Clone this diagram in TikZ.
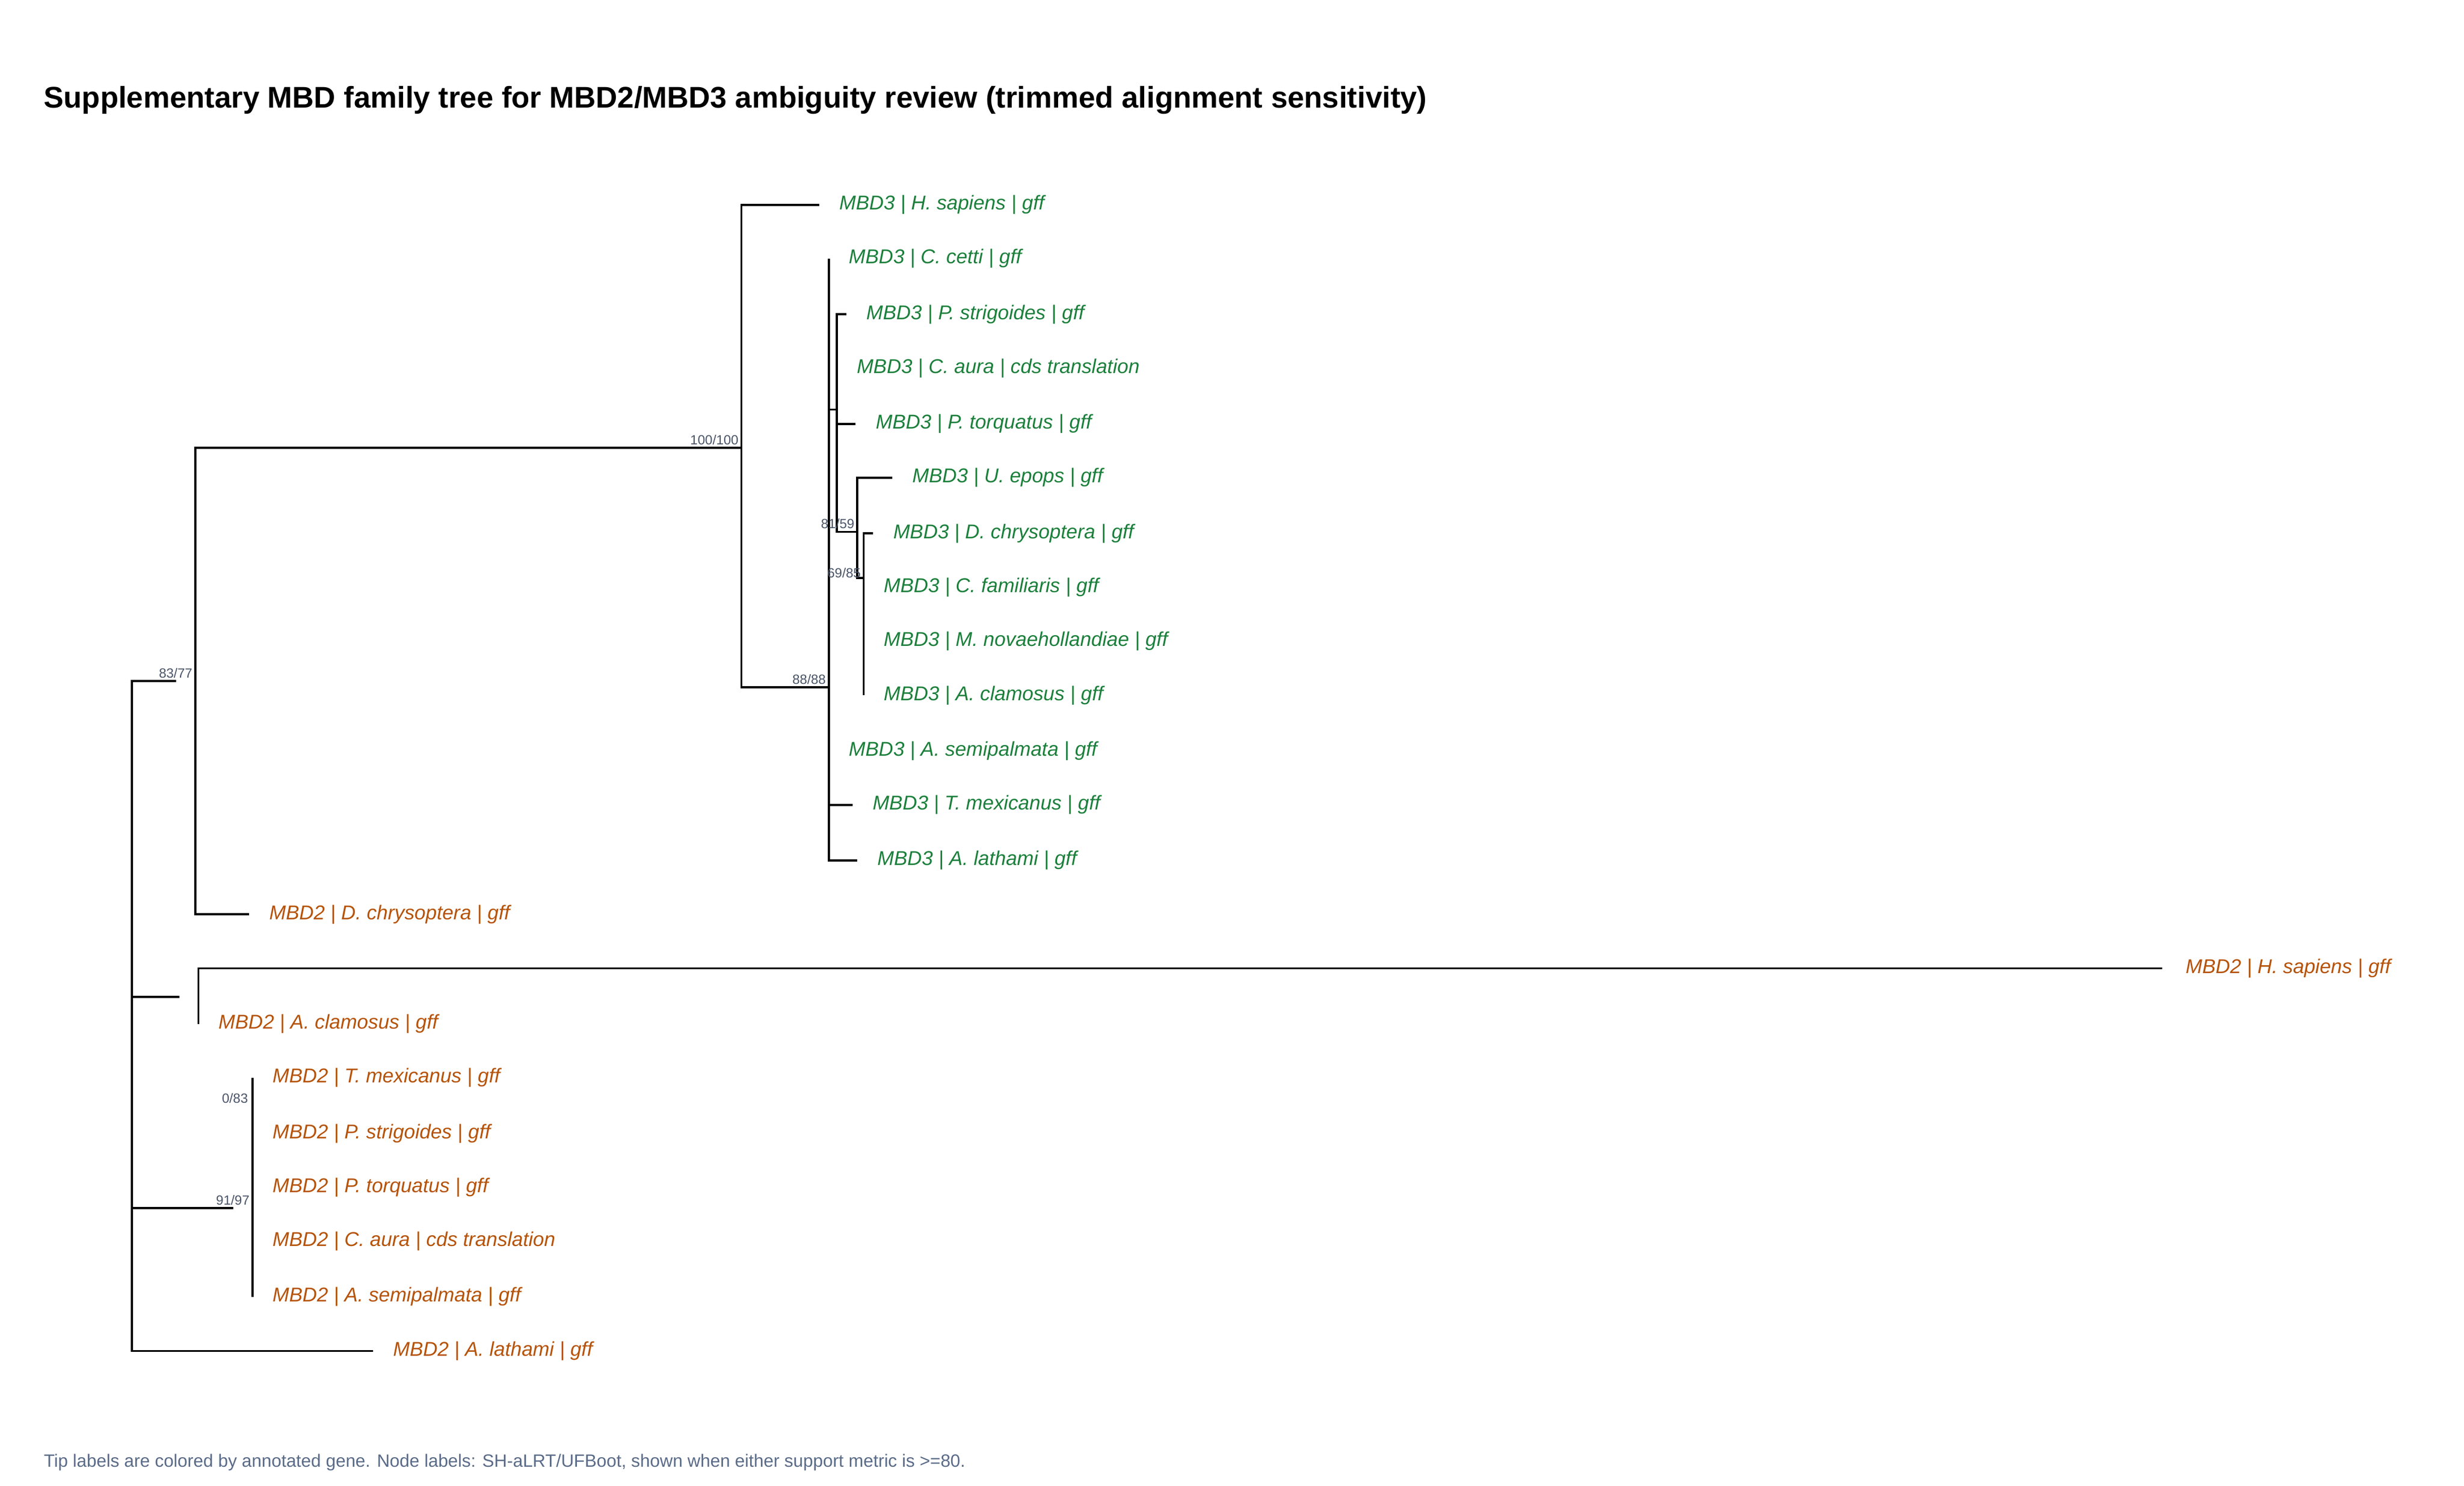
\documentclass[tikz,border=0pt]{standalone}
\usepackage{fontspec}
\setmainfont{Liberation Sans}
\definecolor{geneA}{HTML}{1B7F3B}
\definecolor{geneB}{HTML}{B5530A}
\definecolor{supp}{HTML}{4A5568}
\definecolor{capt}{HTML}{5A6B88}

\begin{document}
\begin{tikzpicture}[%
        x = 0.5pt,
        y = -0.5pt,
        line width = 0.65pt,
        branch/.style = {%
            draw = black
        },
        tipthree/.style = {%
            anchor = west,
            inner sep = 0pt,
            xshift = 6pt,
            text = geneA,
            font = \fontsize{6.3}{7}\selectfont\itshape
        },
        tiptwo/.style = {%
            tipthree,
            text = geneB
        },
        support/.style = {%
            anchor = south east,
            inner sep = 0.6pt,
            text = supp,
            font = \fontsize{4.2}{5}\selectfont
        }
    ]

        \useasboundingbox (0, 0) rectangle (1552, 936);

        % Title and caption.
        \node[anchor = base west, inner sep = 0pt, font = \fontsize{9.4}{11}\selectfont\bfseries]
            (title) at (27, 68) {Supplementary MBD family tree for MBD2/MBD3 ambiguity review (trimmed alignment sensitivity)};
        \node[anchor = base west, inner sep = 0pt, text = capt, font = \fontsize{5.6}{7}\selectfont]
            (caption) at (27, 924) {Tip labels are colored by annotated gene. Node labels: SH-aLRT/UFBoot, shown when either support metric is >=80.};

        % Internal nodes.
        \coordinate (root) at (83, 628);
        \coordinate (nA) at (123, 429);
        \coordinate (nH) at (467, 282);
        \coordinate (n88) at (522, 433);
        \coordinate (nP) at (527, 258);
        \coordinate (nQ) at (540, 335);
        \coordinate (nR) at (544, 364);
        \coordinate (nB) at (125, 628);
        \coordinate (nC) at (159, 761);

        % MBD3 tips.
        \node[tipthree] (hs3) at (516, 129) {MBD3 | H. sapiens | gff};
        \node[tipthree] (cc3) at (522, 163) {MBD3 | C. cetti | gff};
        \node[tipthree] (ps3) at (533, 198) {MBD3 | P. strigoides | gff};
        \node[tipthree] (ca3) at (527, 232) {MBD3 | C. aura | cds translation};
        \node[tipthree] (pt3) at (539, 267) {MBD3 | P. torquatus | gff};
        \node[tipthree] (ue3) at (562, 301) {MBD3 | U. epops | gff};
        \node[tipthree] (dc3) at (550, 336) {MBD3 | D. chrysoptera | gff};
        \node[tipthree] (cf3) at (544, 370) {MBD3 | C. familiaris | gff};
        \node[tipthree] (mn3) at (544, 404) {MBD3 | M. novaehollandiae | gff};
        \node[tipthree] (ac3) at (544, 438) {MBD3 | A. clamosus | gff};
        \node[tipthree] (as3) at (522, 473) {MBD3 | A. semipalmata | gff};
        \node[tipthree] (tm3) at (537, 507) {MBD3 | T. mexicanus | gff};
        \node[tipthree] (al3) at (540, 542) {MBD3 | A. lathami | gff};

        % MBD2 tips.
        \node[tiptwo] (dc2) at (157, 576) {MBD2 | D. chrysoptera | gff};
        \node[tiptwo, xshift = 7pt] (hs2) at (1350, 610) {MBD2 | H. sapiens | gff};
        \node[tiptwo] (ac2) at (125, 645) {MBD2 | A. clamosus | gff};
        \node[tiptwo] (tm2) at (159, 679) {MBD2 | T. mexicanus | gff};
        \node[tiptwo] (ps2) at (159, 714) {MBD2 | P. strigoides | gff};
        \node[tiptwo] (pt2) at (159, 748) {MBD2 | P. torquatus | gff};
        \node[tiptwo] (ca2) at (159, 782) {MBD2 | C. aura | cds translation};
        \node[tiptwo] (as2) at (159, 817) {MBD2 | A. semipalmata | gff};
        \node[tiptwo] (al2) at (235, 851) {MBD2 | A. lathami | gff};

        % Branches.
        \foreach \kid in {nA, nB, nC, al2.west} \draw[branch] (root) |- ([xshift = -6pt]\kid);
        \draw[branch] (nA) |- (nH);
        \draw[branch] (nA) |- ([xshift = -6pt]dc2.west);
        \draw[branch] (nH) |- ([xshift = -6pt]hs3.west);
        \draw[branch] (nH) |- (n88);
        \foreach \kid in {cc3, as3, tm3, al3} \draw[branch] (n88) |- ([xshift = -6pt]\kid.west);
        \draw[branch] (n88 |- nP) -- (nP);
        \foreach \kid in {ps3, ca3, pt3} \draw[branch] (nP) |- ([xshift = -6pt]\kid.west);
        \draw[branch] (nP) |- (nQ);
        \draw[branch] (nQ) |- ([xshift = -6pt]ue3.west);
        \draw[branch] (nQ) |- (nR);
        \foreach \kid in {dc3, cf3, mn3, ac3} \draw[branch] (nR) |- ([xshift = -6pt]\kid.west);
        \draw[branch] (nB) |- ([xshift = -7pt]hs2.west);
        \draw[branch] (nB) |- ([xshift = -6pt]ac2.west);
        \foreach \kid in {tm2, ps2, pt2, ca2, as2} \draw[branch] (nC) |- ([xshift = -6pt]\kid.west);

        % Support values.
        \node[support] (s100) at (nH) {100/100};
        \node[support] (s83) at (nA) {83/77};
        \node[support] (s88) at (n88) {88/88};
        \node[support] (s81) at (nQ) {81/59};
        \node[support, anchor = east] (s69) at ([yshift = 1.5pt]nR) {69/85};
        \node[support] (s91) at (nC) {91/97};
        \node[support, anchor = east] (s0) at (158, 692) {0/83};
    \end{tikzpicture}
\end{document}
